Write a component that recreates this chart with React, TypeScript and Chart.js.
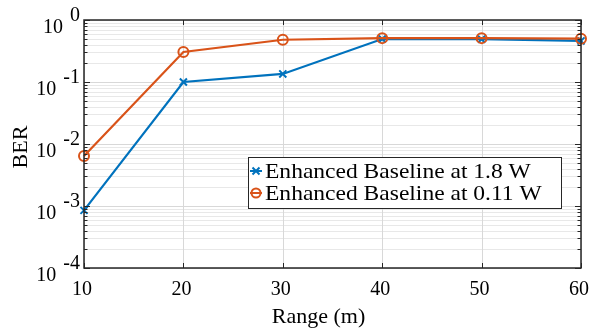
import React, { useEffect, useRef } from "react";
import { Chart, registerables } from "chart.js";

Chart.register(...registerables);

const ranges = [10, 20, 30, 40, 50, 60];
const berHighPower = [8.5e-4, 0.1, 0.135, 0.494, 0.49, 0.46];
const berLowPower = [0.0064, 0.305, 0.48, 0.51, 0.51, 0.5];
const seriesLabels = ["Enhanced Baseline at 1.8 W", "Enhanced Baseline at 0.11 W"];
const xTickValues = [10, 20, 30, 40, 50, 60];
const yExponents = [0, -1, -2, -3, -4];
const xTitle = "Range (m)";
const yTitle = "BER";

const BLUE = "#0072BD";
const ORANGE = "#D95319";
const AXIS = "#262626";
const FONT = '"Liberation Serif", "Times New Roman", serif';

const matlabPlugin = {
  id: "matlabAxes",
  beforeDatasetsDraw(chart: any) {
    const { ctx, chartArea: a, scales } = chart;
    const xs = scales.x;
    const ys = scales.y;
    ctx.save();
    ctx.lineWidth = 1;
    ctx.strokeStyle = "#e8e8e8";
    for (let i = 0; i < yExponents.length - 1; i++) {
      const e = yExponents[i + 1];
      for (let k = 2; k <= 9; k++) {
        const y = Math.round(ys.getPixelForValue(k * Math.pow(10, e))) + 0.5;
        ctx.beginPath();
        ctx.moveTo(a.left, y);
        ctx.lineTo(a.right, y);
        ctx.stroke();
      }
    }
    ctx.strokeStyle = "#d8d8d8";
    yExponents.forEach((e) => {
      const y = Math.round(ys.getPixelForValue(Math.pow(10, e))) + 0.5;
      ctx.beginPath();
      ctx.moveTo(a.left, y);
      ctx.lineTo(a.right, y);
      ctx.stroke();
    });
    xTickValues.forEach((v) => {
      const x = Math.round(xs.getPixelForValue(v)) + 0.5;
      ctx.beginPath();
      ctx.moveTo(x, a.top);
      ctx.lineTo(x, a.bottom);
      ctx.stroke();
    });
    ctx.restore();
  },
  afterDraw(chart: any) {
    const { ctx, chartArea: a, scales } = chart;
    const xs = scales.x;
    const ys = scales.y;
    ctx.save();
    ctx.strokeStyle = AXIS;
    ctx.lineWidth = 1.5;
    ctx.strokeRect(a.left, a.top, a.right - a.left, a.bottom - a.top);
    ctx.lineWidth = 1;
    const tickY = (y: number, len: number) => {
      ctx.beginPath();
      ctx.moveTo(a.left, y);
      ctx.lineTo(a.left + len, y);
      ctx.moveTo(a.right, y);
      ctx.lineTo(a.right - len, y);
      ctx.stroke();
    };
    yExponents.forEach((e) => tickY(Math.round(ys.getPixelForValue(Math.pow(10, e))) + 0.5, 6));
    for (let i = 0; i < yExponents.length - 1; i++) {
      const e = yExponents[i + 1];
      for (let k = 2; k <= 9; k++) {
        tickY(Math.round(ys.getPixelForValue(k * Math.pow(10, e))) + 0.5, 3.5);
      }
    }
    xTickValues.forEach((v) => {
      const x = Math.round(xs.getPixelForValue(v)) + 0.5;
      ctx.beginPath();
      ctx.moveTo(x, a.bottom);
      ctx.lineTo(x, a.bottom - 5);
      ctx.moveTo(x, a.top);
      ctx.lineTo(x, a.top + 5);
      ctx.stroke();
    });
    ctx.fillStyle = "#000";
    ctx.font = "20px " + FONT;
    ctx.textBaseline = "alphabetic";
    yExponents.forEach((e) => {
      const y = ys.getPixelForValue(Math.pow(10, e));
      const expText = String(e);
      ctx.textAlign = "right";
      const right = a.left - 4;
      ctx.fillText(expText, right, y + 1);
      const w = ctx.measureText(expText).width;
      ctx.fillText("10", right - w - 7, y + 13);
    });
    ctx.textAlign = "center";
    xTickValues.forEach((v) => {
      ctx.fillText(String(v), xs.getPixelForValue(v) - 2, a.bottom + 27);
    });
    ctx.font = "22px " + FONT;
    ctx.fillText(xTitle, (a.left + a.right) / 2 - 14, a.bottom + 55);
    ctx.save();
    ctx.translate(a.left - 57, (a.top + a.bottom) / 2 + 3);
    ctx.rotate(-Math.PI / 2);
    ctx.textAlign = "center";
    ctx.fillText(yTitle, 0, 0);
    ctx.restore();
    // legend
    const lx = 248, ly = 157, lw = 313, lh = 51;
    ctx.fillStyle = "#fff";
    ctx.fillRect(lx, ly, lw, lh);
    ctx.strokeStyle = AXIS;
    ctx.lineWidth = 1;
    ctx.strokeRect(lx + 0.5, ly + 0.5, lw, lh);
    ctx.font = "21px " + FONT;
    ctx.textAlign = "left";
    const colors = [BLUE, ORANGE];
    seriesLabels.forEach((label, i) => {
      const cy = ly + 14 + i * 22;
      ctx.strokeStyle = colors[i];
      ctx.lineWidth = 2;
      ctx.beginPath();
      ctx.moveTo(lx + 2, cy);
      ctx.lineTo(lx + 14, cy);
      ctx.stroke();
      const mx = lx + 8;
      if (i === 0) {
        const r = 3.5;
        ctx.beginPath();
        ctx.moveTo(mx - r, cy - r);
        ctx.lineTo(mx + r, cy + r);
        ctx.moveTo(mx - r, cy + r);
        ctx.lineTo(mx + r, cy - r);
        ctx.stroke();
      } else {
        ctx.beginPath();
        ctx.arc(mx, cy, 4.5, 0, Math.PI * 2);
        ctx.stroke();
      }
      ctx.fillStyle = "#000";
      ctx.save();
      ctx.translate(lx + 17, cy + 6.5);
      ctx.scale(1.12, 1);
      ctx.fillText(label, 0, 0);
      ctx.restore();
    });
    ctx.restore();
  },
};

export default function App() {
  const ref = useRef<HTMLCanvasElement>(null);
  useEffect(() => {
    document.body.style.margin = "0";
    const canvas = ref.current!;
    const chart = new Chart(canvas, {
      type: "line",
      data: {
        datasets: [
          {
            label: seriesLabels[0],
            data: ranges.map((x, i) => ({ x, y: berHighPower[i] })),
            borderColor: BLUE,
            backgroundColor: BLUE,
            pointBorderColor: BLUE,
            pointBackgroundColor: "rgba(0,0,0,0)",
            pointStyle: "crossRot",
            pointRadius: 5,
            pointBorderWidth: 2,
            borderWidth: 2.2,
            order: 1,
            clip: false,
          },
          {
            label: seriesLabels[1],
            data: ranges.map((x, i) => ({ x, y: berLowPower[i] })),
            borderColor: ORANGE,
            backgroundColor: ORANGE,
            pointBorderColor: ORANGE,
            pointBackgroundColor: "rgba(0,0,0,0)",
            pointStyle: "circle",
            pointRadius: 5,
            pointBorderWidth: 2,
            borderWidth: 2.2,
            order: 0,
            clip: false,
          },
        ],
      },
      options: {
        responsive: false,
        animation: false,
        events: [],
        layout: { padding: { left: 84, top: 20, right: 8, bottom: 65 } },
        plugins: { legend: { display: false }, tooltip: { enabled: false } },
        scales: {
          x: { type: "linear", min: 10, max: 60, display: false },
          y: { type: "logarithmic", min: 1e-4, max: 1, display: false },
        },
        elements: { line: { tension: 0 } },
      },
      plugins: [matlabPlugin],
    });
    return () => chart.destroy();
  }, []);
  return (
    <div style={{ width: 589, height: 333 }}>
      <canvas ref={ref} width={589} height={333} style={{ display: "block" }} />
    </div>
  );
}
